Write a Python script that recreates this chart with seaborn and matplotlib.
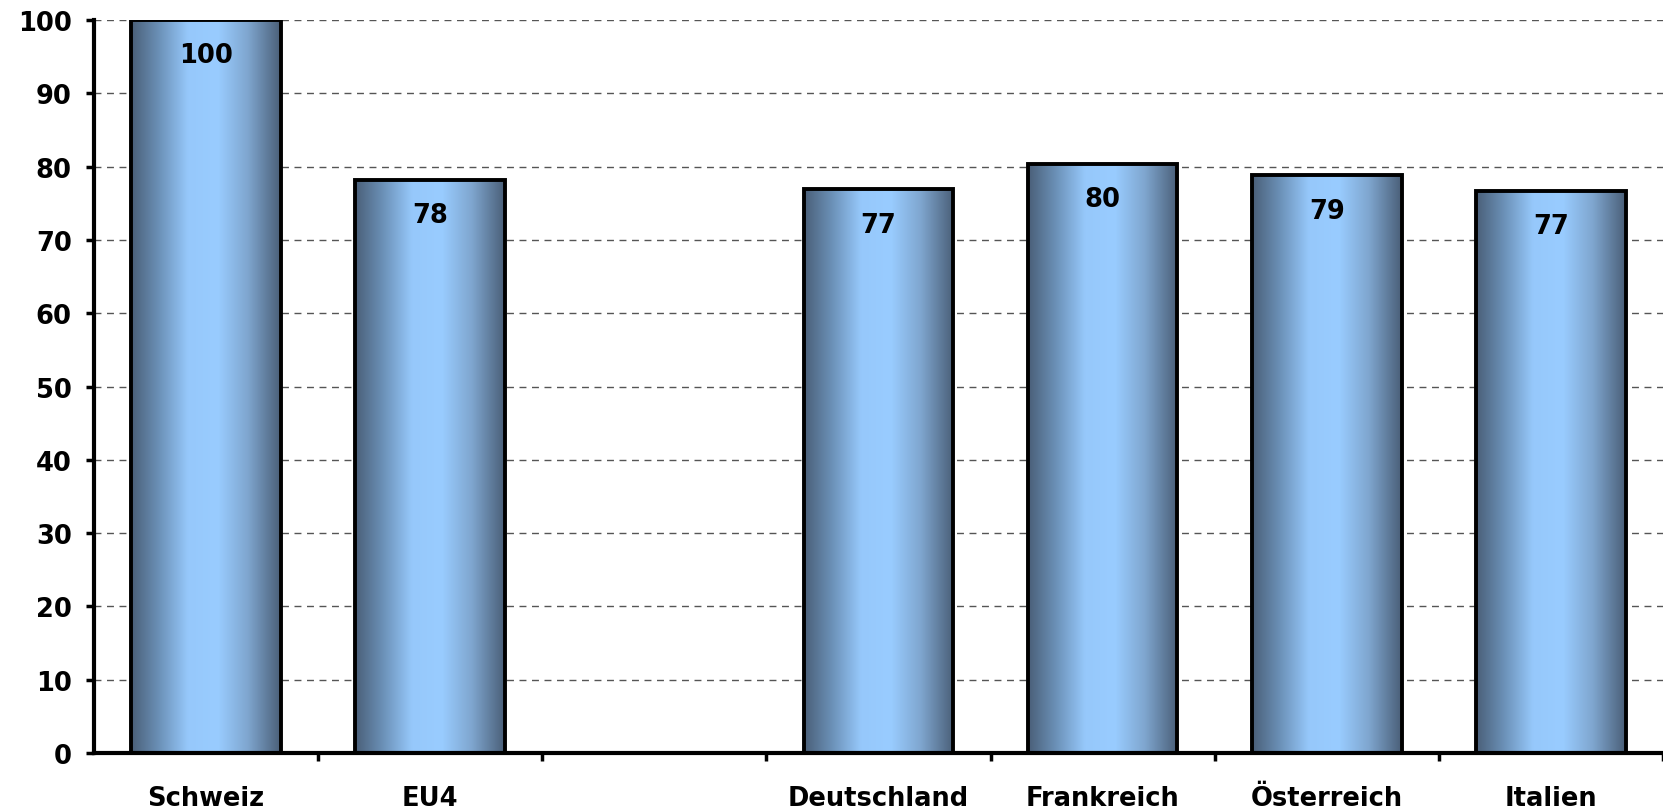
"""Preisniveau-Vergleich: Säulen mit Farbverlauf"""

import matplotlib

matplotlib.use("Agg")
import matplotlib.pyplot as plt
import numpy as np
import pandas as pd
import seaborn as sns
from matplotlib.colors import LinearSegmentedColormap

categories = ["Schweiz", "EU4", "", "Deutschland", "Frankreich", "Österreich", "Italien"]
values = [100, 78.2, np.nan, 76.9, 80.4, 78.8, 76.7]
labels = ["100", "78", "", "77", "80", "79", "77"]

df = pd.DataFrame({"land": categories, "wert": values})

sns.set_theme(style="white")
plt.rcParams["font.family"] = ["DejaVu Sans"]
plt.rcParams["font.weight"] = "bold"
plt.rcParams["text.color"] = "black"
plt.rcParams["xtick.color"] = "black"
plt.rcParams["ytick.color"] = "black"

fig = plt.figure(figsize=(16.63, 8.12), dpi=100)
ax = fig.add_axes([94 / 1663, 1 - 754 / 812, 1 - 94 / 1663, (754 - 21) / 812])

sns.barplot(data=df, x="land", y="wert", order=categories, color="#99ccff",
            width=0.667, edgecolor="black", linewidth=2.8, ax=ax, zorder=3)

# horizontaler Farbverlauf dunkel - hell - dunkel
grad_cmap = LinearSegmentedColormap.from_list(
    "bar_grad",
    [(0.0, "#4a5f78"), (0.18, "#6a8fb5"), (0.38, "#96c8fb"),
     (0.58, "#99ccff"), (0.78, "#7fa6cf"), (1.0, "#4a5f78")],
)
grad = np.linspace(0, 1, 256).reshape(1, -1)
for patch in ax.patches:
    h = patch.get_height()
    if not np.isfinite(h) or h == 0:
        continue
    x0 = patch.get_x()
    w = patch.get_width()
    im = ax.imshow(grad, cmap=grad_cmap, aspect="auto",
                   extent=(x0, x0 + w, 0, h), zorder=3.5, interpolation="bicubic")
    im.set_clip_path(patch)
    patch.set_facecolor("none")
    patch.set_zorder(4)

for i, (v, lab) in enumerate(zip(values, labels)):
    if not np.isfinite(v):
        continue
    ax.annotate(lab, (i, v), xytext=(0, -16), textcoords="offset points",
                ha="center", va="top", fontsize=18.5, fontweight="bold",
                color="black", zorder=5)

ax.set_xlim(-0.5, 6.44)
ax.set_ylim(0, 100)
ax.set_yticks(np.arange(0, 101, 10))
ax.yaxis.grid(True, linestyle=(0, (5, 4)), color="#555555", linewidth=1.0, zorder=0)
ax.xaxis.grid(False)
ax.set_axisbelow(True)

ax.set_xlabel("")
ax.set_ylabel("")
ax.set_xticks(np.arange(len(categories)))
ax.set_xticklabels(categories, fontsize=18.5, fontweight="bold", color="black")
ax.set_xticks(np.arange(len(categories)) + 0.5, minor=True)
ax.tick_params(axis="x", which="major", length=0, pad=23)
ax.tick_params(axis="x", which="minor", direction="out", length=6, width=2.5,
               color="black", bottom=True)
ax.tick_params(axis="y", which="major", direction="out", length=6, width=2.5,
               color="black", pad=10, labelsize=18.5, left=True, labelcolor="black")
for t in ax.get_yticklabels():
    t.set_fontweight("bold")

for side in ["top", "right"]:
    ax.spines[side].set_visible(False)
for side in ["left", "bottom"]:
    ax.spines[side].set_color("black")
    ax.spines[side].set_linewidth(3)
    ax.spines[side].set_zorder(6)

fig.savefig("out.png", dpi=100)
plt.close(fig)
